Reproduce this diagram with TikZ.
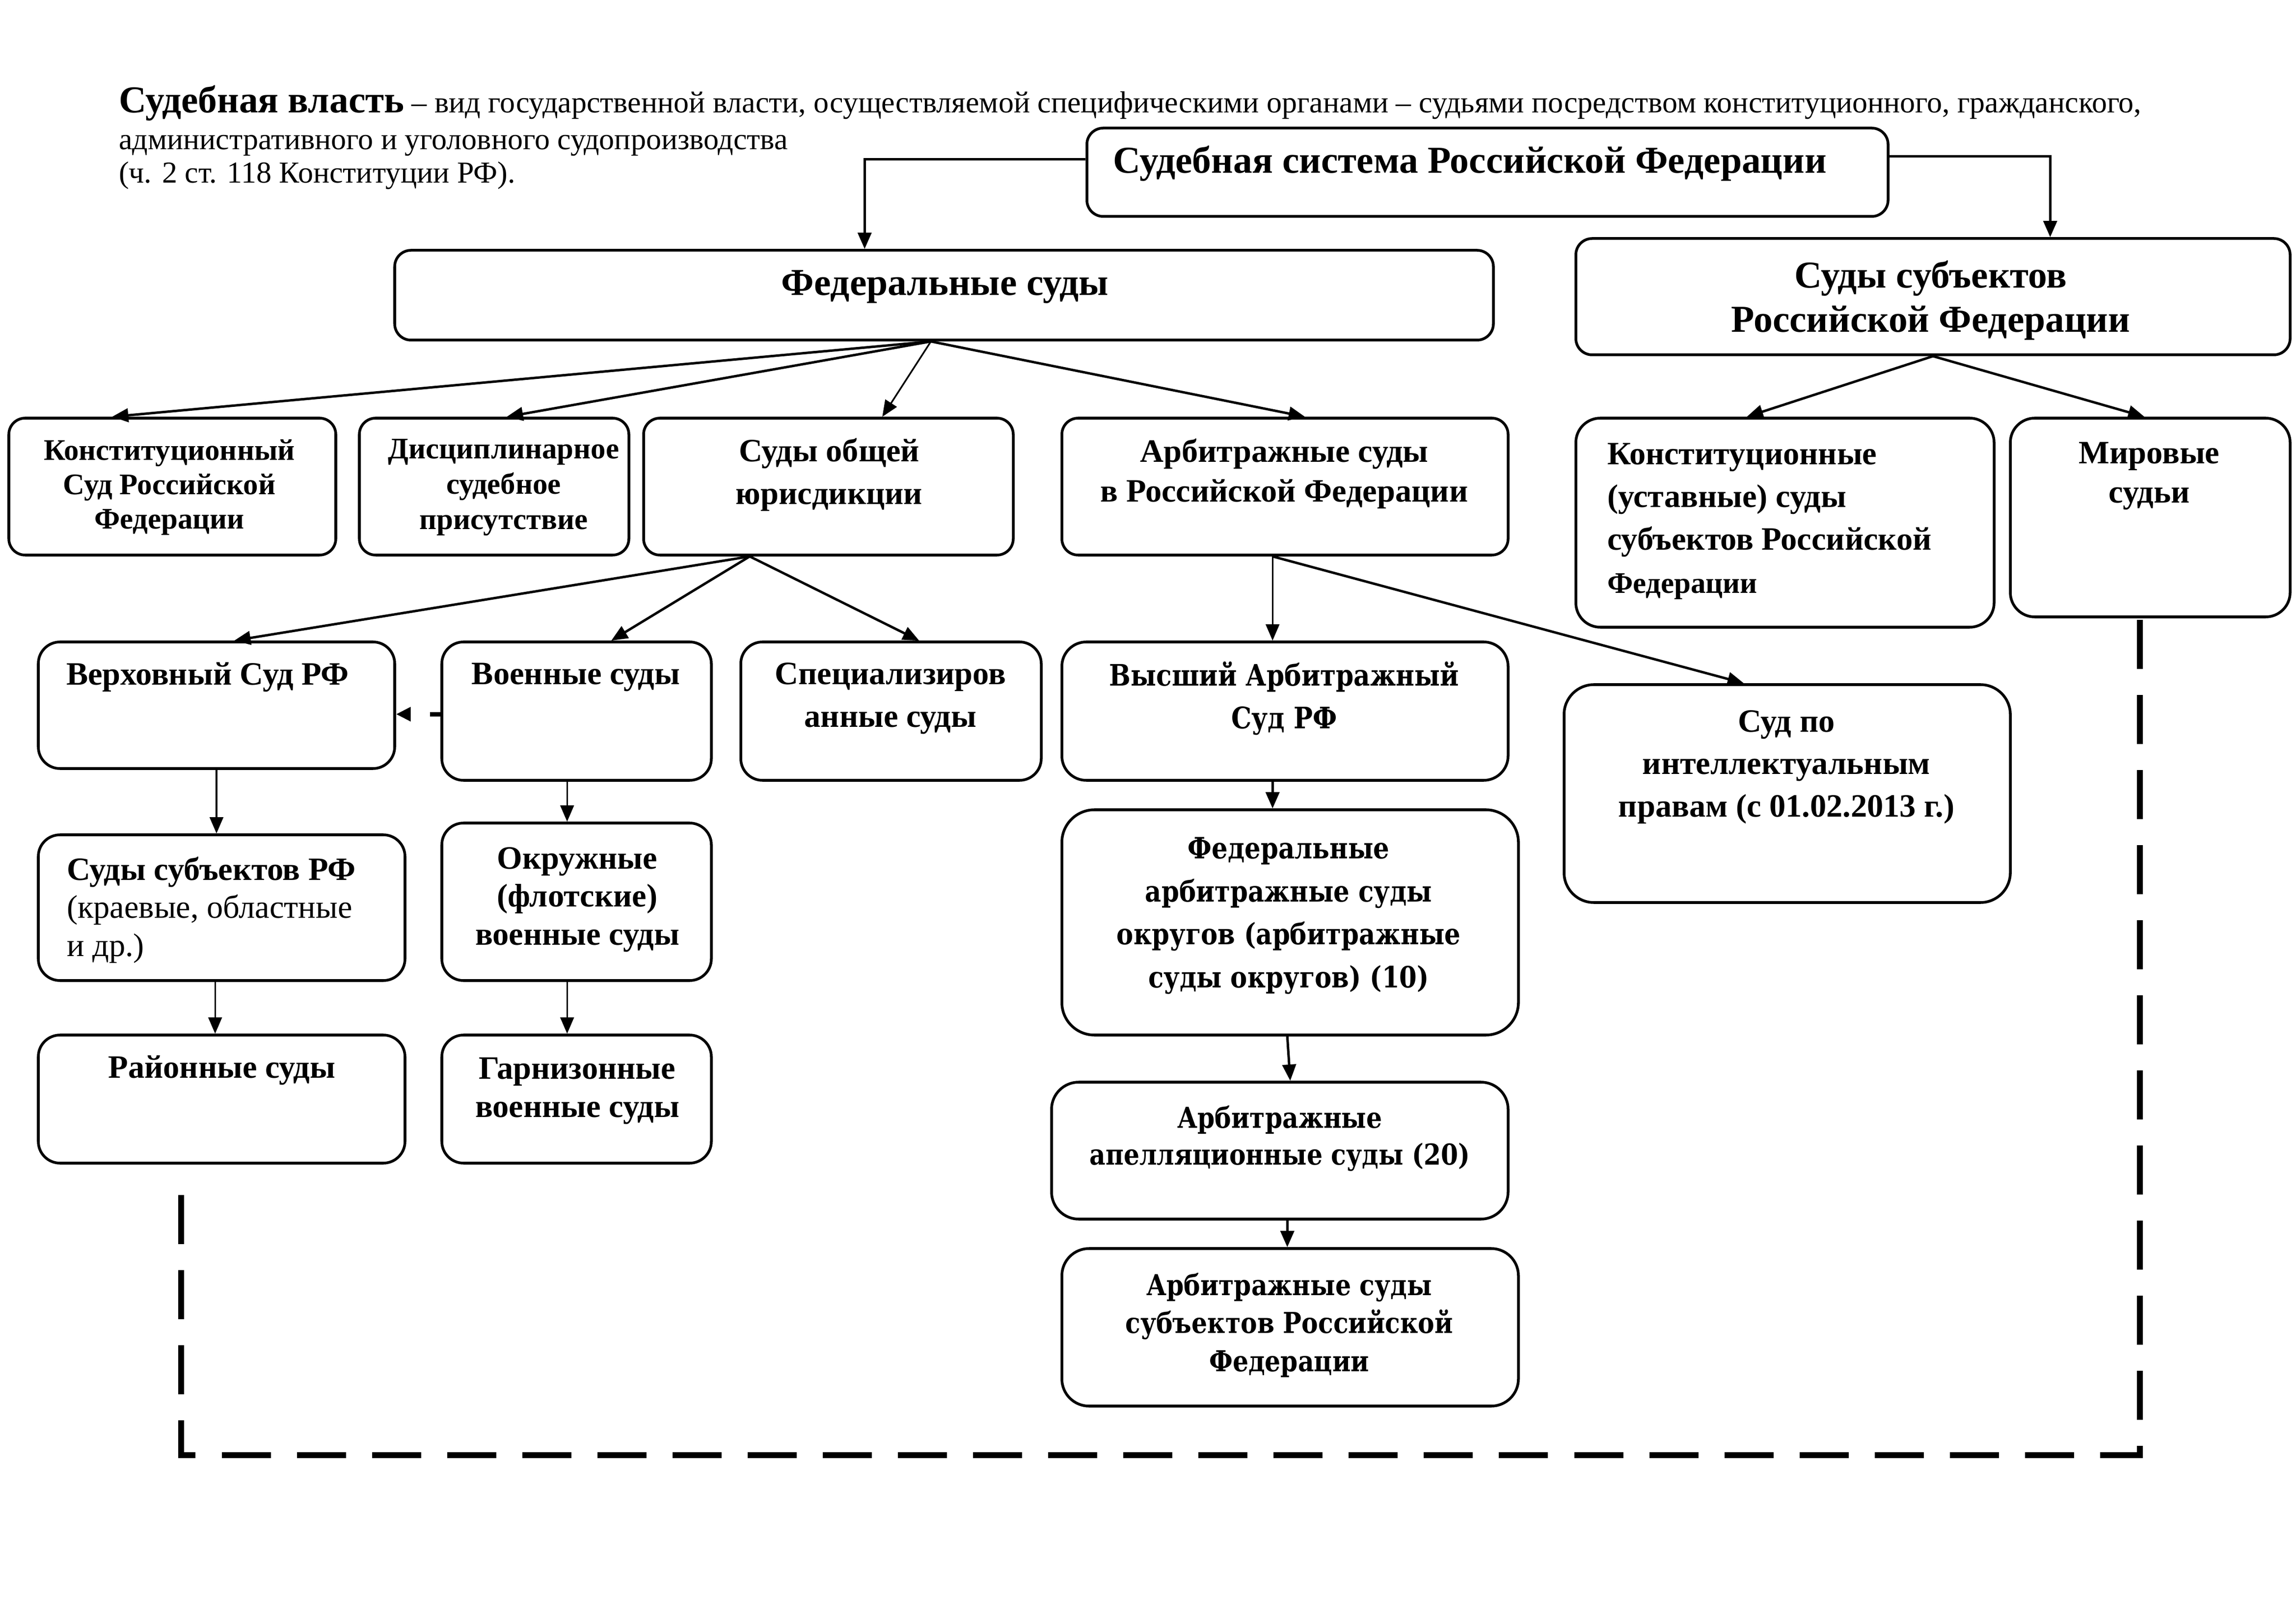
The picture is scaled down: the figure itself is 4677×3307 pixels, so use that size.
\documentclass[tikz,border=0pt]{standalone}
\usepackage{fontspec}
\setmainfont{Liberation Serif}
\newfontfamily\dvs[FakeStretch=0.86]{DejaVu Serif}
\usetikzlibrary{arrows.meta,calc,fit}
\begin{document}
\begin{tikzpicture}[x=0.0635mm,y=-0.0635mm,
  box/.style={draw, line width=1pt, rounded corners=6pt, inner sep=0pt},
  arr/.style={-{Triangle[length=6pt,width=5pt]}, line width=0.9pt},
  thin/.style={-{Triangle[length=6pt,width=5pt]}, line width=0.6pt},
  tx/.style={inner sep=0pt, align=center},
  bigdash/.style={line width=2.2pt, dash pattern=on 6.35mm off 3.37mm},
  smalldash/.style={line width=1.6pt, dash pattern=on 1.33mm off 2.86mm, -{Triangle[length=5.4pt,width=5pt]}}]
\useasboundingbox (0,0) rectangle (4677,3307);
\fill[white] (0,0) rectangle (4677,3307);

% title
\node[anchor=base west, inner sep=0, font=\fontsize{11.2}{13}\selectfont] (ttl1) at (241,230)
  {{\bfseries\fontsize{14}{16}\selectfont Судебная власть} – вид государственной власти, осуществляемой специфическими органами – судьями посредством конституционного, гражданского,};
\node[anchor=base west, inner sep=0, font=\fontsize{11.2}{13}\selectfont] (ttl2) at (241,305)
  {административного и уголовного судопроизводства};
\node[anchor=base west, inner sep=0, font=\fontsize{11.2}{13}\selectfont] (ttl3) at (241,373)
  {(ч. 2 ст. 118 Конституции РФ).};

% boxes
\node[box, fit={(2214,261) (3846,441)}] (top) {};
\node[box, fit={(804,510) (3042,693)}] (fed) {};
\node[box, fit={(3210,486) (4665,723)}] (subj) {};
\node[box, fit={(18,852) (684,1131)}] (ks) {};
\node[box, fit={(732,852) (1281,1131)}] (dsp) {};
\node[box, fit={(1311,852) (2064,1131)}] (soy) {};
\node[box, fit={(2163,852) (3072,1131)}] (arb) {};
\node[box, fit={(3210,852) (4062,1278)}, rounded corners=9pt] (ksub) {};
\node[box, fit={(4095,852) (4665,1257)}, rounded corners=9pt] (mir) {};
\node[box, fit={(78,1308) (804,1566)}, rounded corners=8pt] (vs) {};
\node[box, fit={(900,1308) (1449,1590)}, rounded corners=8pt] (voen) {};
\node[box, fit={(1509,1308) (2121,1590)}, rounded corners=8pt] (spec) {};
\node[box, fit={(78,1701) (825,1998)}, rounded corners=8pt] (ssrf) {};
\node[box, fit={(78,2109) (825,2370)}, rounded corners=8pt] (rai) {};
\node[box, fit={(900,1677) (1449,1998)}, rounded corners=8pt] (okr) {};
\node[box, fit={(900,2109) (1449,2370)}, rounded corners=8pt] (garn) {};
\node[box, fit={(2163,1308) (3072,1590)}, rounded corners=9pt] (vas) {};
\node[box, fit={(3186,1395) (4095,1839)}, rounded corners=11pt] (sip) {};
\node[box, fit={(2163,1650) (3093,2109)}, rounded corners=12pt] (faso) {};
\node[box, fit={(2142,2205) (3072,2484)}, rounded corners=10pt] (aas) {};
\node[box, fit={(2163,2544) (3093,2865)}, rounded corners=10pt] (asub) {};

% texts
\node[tx, font=\bfseries\fontsize{14}{16}\selectfont] (t-top) at (2994,333) {Судебная система Российской Федерации};
\node[tx, font=\bfseries\fontsize{14}{16}\selectfont] (t-fed) at (1925,585) {Федеральные суды};
\node[tx, font=\bfseries\fontsize{14}{16.2}\selectfont] (t-subj) at (3933,612) {Суды субъектов\\Российской Федерации};
\node[tx, font=\bfseries\fontsize{11}{12.7}\selectfont] (t-ks) at (345,993) {Конституционный\\Суд Российской\\Федерации};
\node[tx, font=\bfseries\fontsize{11}{13}\selectfont] (t-dsp) at (1026,993) {Дисциплинарное\\судебное\\присутствие};
\node[tx, font=\bfseries\fontsize{12}{15.7}\selectfont] (t-soy) at (1689,967) {Суды общей\\юрисдикции};
\node[tx, font=\bfseries\fontsize{12}{14.6}\selectfont] (t-arb) at (2616,965) {Арбитражные суды\\в Российской Федерации};
\node[tx, align=left, anchor=west, font=\bfseries\fontsize{12}{15.8}\selectfont] (t-ksub) at (3273,1062) {Конституционные\\(уставные) суды\\субъектов Российской\\{\fontsize{11}{15.8}\selectfont Федерации}};
\node[tx, font=\bfseries\fontsize{12}{14.6}\selectfont] (t-mir) at (4378,970) {Мировые\\судьи};
\node[tx, font=\bfseries\fontsize{12}{15}\selectfont] (t-vs) at (423,1380) {Верховный Суд РФ};
\node[tx, font=\bfseries\fontsize{12}{15}\selectfont] (t-voen) at (1173,1380) {Военные суды};
\node[tx, font=\bfseries\fontsize{12}{15.7}\selectfont] (t-spec) at (1814,1423) {Специализиров\\анные суды};
\node[tx, align=left, anchor=west, font=\fontsize{12}{14}\selectfont] (t-ssrf) at (135,1854) {\textbf{Суды субъектов РФ}\\(краевые, областные\\и др.)};
\node[tx, font=\bfseries\fontsize{12}{15}\selectfont] (t-rai) at (452,2181) {Районные суды};
\node[tx, font=\bfseries\fontsize{12}{14}\selectfont] (t-okr) at (1176,1833) {Окружные\\(флотские)\\военные суды};
\node[tx, font=\bfseries\fontsize{12}{14}\selectfont] (t-garn) at (1176,2223) {Гарнизонные\\военные суды};
\node[tx, font=\dvs\bfseries\fontsize{10.9}{15.7}\selectfont] (t-vas) at (2616,1423) {Высший Арбитражный\\Суд РФ};
\node[tx, font=\bfseries\fontsize{12}{15.7}\selectfont] (t-sip) at (3639,1563) {Суд по\\интеллектуальным\\правам (с 01.02.2013 г.)};
\node[tx, font=\dvs\bfseries\fontsize{10.8}{15.8}\selectfont] (t-faso) at (2625,1866) {Федеральные\\арбитражные суды\\округов (арбитражные\\суды округов) (10)};
\node[tx, font=\dvs\bfseries\fontsize{10.6}{13.5}\selectfont] (t-aas) at (2607,2320) {Арбитражные\\апелляционные суды (20)};
\node[tx, font=\dvs\bfseries\fontsize{10.6}{14}\selectfont] (t-asub) at (2626,2700) {Арбитражные суды\\субъектов Российской\\Федерации};

% connectors
\draw[arr] ($(top.north west)+(0,66)$) -| ($(fed.north west)+(960,0)$);
\draw[arr] ($(top.north east)+(0,60)$) -| ($(subj.north west)+(969,0)$);

\coordinate (fs) at ($(fed.south west)+(1095,0)$);
\draw[arr] (fs) -- ($(ks.north west)+(213,0)$);
\draw[arr] (fs) -- ($(dsp.north west)+(303,0)$);
\draw[thin] (fs) -- ($(soy.north west)+(489,0)$);
\draw[arr] (fs) -- ($(arb.north west)+(498,0)$);

\draw[arr] (subj.south) -- ($(ksub.north west)+(351,0)$);
\draw[arr] (subj.south) -- ($(mir.north west)+(276,0)$);

\coordinate (ss) at ($(soy.south west)+(219,0)$);
\draw[arr] (ss) -- ($(vs.north west)+(402,0)$);
\draw[arr] (ss) -- ($(voen.north west)+(348,0)$);
\draw[arr] (ss) -- ($(spec.north west)+(366,0)$);

\draw[smalldash] ($(voen.north west)+(0,150)$) -- ($(vs.north east)+(0,150)$);

\draw[thin] (vs.south) -- (vs.south |- ssrf.north);
\draw[thin] ($(ssrf.south west)+(363,0)$) -- ($(rai.north west)+(363,0)$);
\draw[thin] ($(voen.south west)+(258,0)$) -- ($(okr.north west)+(258,0)$);
\draw[thin] ($(okr.south west)+(258,0)$) -- ($(garn.north west)+(258,0)$);

\coordinate (as) at ($(arb.south west)+(432,0)$);
\draw[thin] (as) -- ($(vas.north west)+(432,0)$);
\draw[arr] (as) -- ($(sip.north west)+(369,0)$);
\draw[arr] ($(vas.south west)+(432,0)$) -- ($(faso.north west)+(432,0)$);
\draw[arr] ($(faso.south west)+(462,0)$) -- ($(aas.north west)+(489,0)$);
\draw[arr] ($(aas.south west)+(483,0)$) -- ($(asub.north west)+(462,0)$);

% big dashed frame line
\coordinate (dR) at ($(mir.south west)+(267,3)$);
\coordinate (dL) at ($(rai.south west)+(294,45)$);
\coordinate (dB) at (0,2965);
\draw[bigdash] (dR) -- (dR |- dB) -- (dL |- dB) -- (dL);
\end{tikzpicture}
\end{document}
